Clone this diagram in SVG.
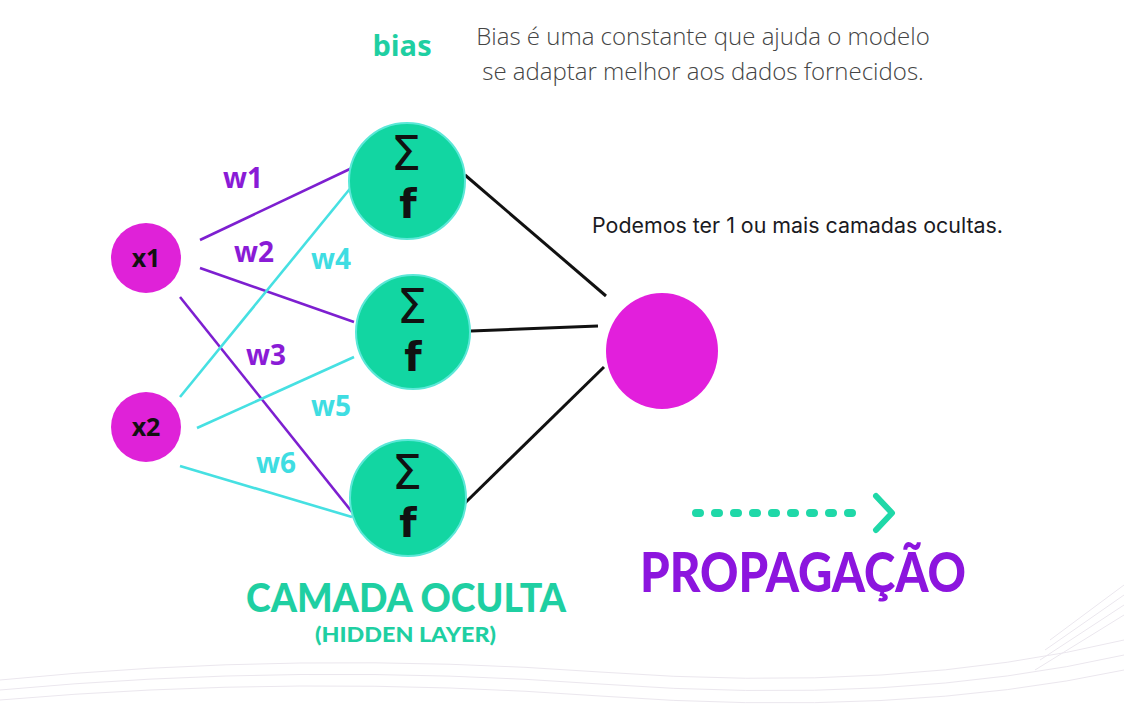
<svg xmlns="http://www.w3.org/2000/svg" width="1124" height="704" viewBox="0 0 1124 704">
<style>
.hid{fill:#12d6a2;stroke:#5ce8d8;stroke-width:2}
.inp{fill:#df22d8}
.sym{font-family:"DejaVu Sans",sans-serif;fill:#111;text-anchor:middle;font-size:48px}
.fx{font-family:"DejaVu Sans",sans-serif;fill:#111;text-anchor:middle;font-size:40px;font-weight:700}
.lbl{font-family:"Open Sans",sans-serif;font-weight:700;font-size:28px}
.pw{fill:#8a1bd6}
.cw{fill:#3fdde2}
.pl{stroke:#7d1fd0;stroke-width:2.6}
.cl{stroke:#46e0e2;stroke-width:2.6}
.bl{stroke:#111;stroke-width:3}
.bg{fill:none;stroke:#ebe7ee;stroke-width:1}
.xt{font-family:"Open Sans",sans-serif;font-weight:700;font-size:25px;fill:#111;text-anchor:middle}
</style>
<rect width="1124" height="704" fill="#ffffff"/>
<g id="background">
<path class="bg" d="M0 680 Q300 650 600 672 T1124 640"/>
<path class="bg" d="M0 690 Q300 662 600 684 T1124 655"/>
<path class="bg" d="M0 700 Q300 674 600 696 T1124 670"/>
<path class="bg" d="M1050 640 L1124 585"/>
<path class="bg" d="M1045 650 L1124 595"/>
<path class="bg" d="M1040 660 L1124 605"/>
<path class="bg" d="M1035 670 L1124 615"/>
</g>
<g id="connectors">
<line class="pl" x1="200" y1="240" x2="352" y2="168"/>
<line class="pl" x1="200" y1="268" x2="354" y2="322"/>
<line class="pl" x1="180" y1="297" x2="352" y2="512"/>
<line class="cl" x1="180" y1="397" x2="353" y2="185"/>
<line class="cl" x1="197" y1="428" x2="354" y2="357"/>
<line class="cl" x1="180" y1="466" x2="352" y2="517"/>
<line class="bl" x1="465" y1="175" x2="606" y2="296"/>
<line class="bl" x1="471" y1="331" x2="598" y2="326"/>
<line class="bl" x1="465" y1="503" x2="604" y2="367"/>
</g>
<g id="weights">
<text class="lbl pw" x="243" y="188" text-anchor="middle">w1</text>
<text class="lbl pw" x="254" y="262" text-anchor="middle">w2</text>
<text class="lbl cw" x="331" y="269" text-anchor="middle">w4</text>
<text class="lbl pw" x="266" y="365" text-anchor="middle">w3</text>
<text class="lbl cw" x="331" y="416" text-anchor="middle">w5</text>
<text class="lbl cw" x="276" y="473" text-anchor="middle">w6</text>
</g>
<g id="x1">
<circle class="inp" cx="146" cy="258" r="35"/>
<text class="xt" x="146" y="267">x1</text>
</g>
<g id="x2">
<circle class="inp" cx="146" cy="427" r="35"/>
<text class="xt" x="146" y="436">x2</text>
</g>
<g id="h1">
<circle class="hid" cx="407" cy="181" r="58"/>
<text class="sym" x="406" y="170">Σ</text>
<text class="fx" x="408" y="218">f</text>
</g>
<g id="h2">
<circle class="hid" cx="413" cy="332" r="57"/>
<text class="sym" x="412" y="323">Σ</text>
<text class="fx" x="413" y="371">f</text>
</g>
<g id="h3">
<circle class="hid" cx="408" cy="498" r="58"/>
<text class="sym" x="407" y="489">Σ</text>
<text class="fx" x="408" y="537">f</text>
</g>
<g id="output">
<ellipse cx="662" cy="351" rx="56" ry="58" fill="#e21fdc"/>
</g>
<g id="texts">
<text x="402" y="56" text-anchor="middle" font-family="Open Sans, sans-serif" font-weight="700" font-size="29" fill="#1fcfa2">bias</text>
<text x="703" y="45" text-anchor="middle" font-family="Open Sans, sans-serif" font-weight="300" font-size="24" fill="#444">Bias é uma constante que ajuda o modelo</text>
<text x="703" y="80" text-anchor="middle" font-family="Open Sans, sans-serif" font-weight="300" font-size="24" fill="#444">se adaptar melhor aos dados fornecidos.</text>
<text x="592" y="233" textLength="411" lengthAdjust="spacingAndGlyphs" font-family="Inter, sans-serif" font-weight="400" font-size="21" fill="#1a1a22">Podemos ter 1 ou mais camadas ocultas.</text>
<text x="246" y="612" textLength="320" lengthAdjust="spacingAndGlyphs" font-family="Lato, sans-serif" font-weight="900" font-size="40" fill="#1fcfa2">CAMADA OCULTA</text>
<text x="315" y="642" textLength="181" lengthAdjust="spacingAndGlyphs" font-family="Lato, sans-serif" font-weight="900" font-size="20" fill="#1fcfa2">(HIDDEN LAYER)</text>
<text x="640" y="592" textLength="326" lengthAdjust="spacingAndGlyphs" font-family="Lato, sans-serif" font-weight="900" font-size="55" fill="#8c15de">PROPAGAÇÃO</text>
</g>
<g id="arrow">
<line x1="696" y1="513" x2="860" y2="513" stroke="#1fd8a8" stroke-width="8" stroke-linecap="round" stroke-dasharray="4 15"/>
<polyline points="876,496 892,513 876,530" fill="none" stroke="#1fd8a8" stroke-width="6" stroke-linecap="round" stroke-linejoin="round"/>
</g>
</svg>
